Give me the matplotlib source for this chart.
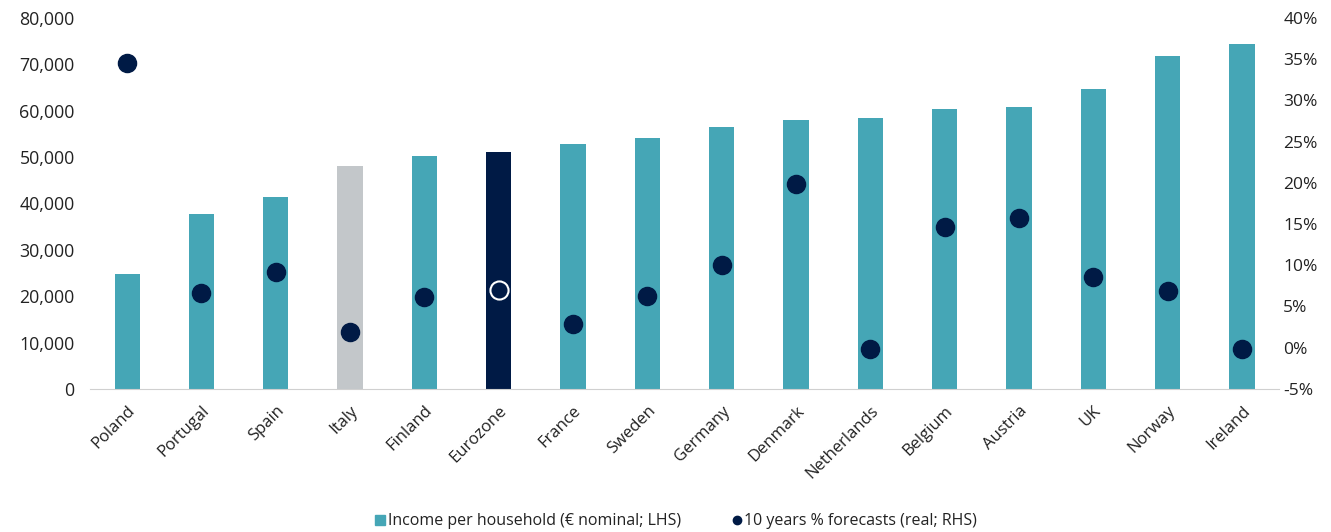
import matplotlib
matplotlib.use("Agg")
import matplotlib.pyplot as plt
from matplotlib.lines import Line2D
from matplotlib.ticker import FuncFormatter

plt.rcParams['font.family'] = ['Open Sans', 'DejaVu Sans']

countries = ["Poland", "Portugal", "Spain", "Italy", "Finland", "Eurozone", "France", "Sweden",
             "Germany", "Denmark", "Netherlands", "Belgium", "Austria", "UK", "Norway", "Ireland"]
income = [24800, 37700, 41400, 48100, 50200, 51100, 52800, 54100,
          56500, 58000, 58400, 60300, 60800, 64700, 71800, 74400]
forecast = [34.5, 6.6, 9.2, 1.9, 6.2, 7.0, 2.9, 6.3,
            10.0, 19.9, -0.1, 14.7, 15.7, 8.6, 6.9, -0.2]

teal = "#45A6B6"
navy = "#001A45"
grey = "#C3C7CA"
txt = "#222222"

bar_colors = []
for c in countries:
    if c == "Italy":
        bar_colors.append(grey)
    elif c == "Eurozone":
        bar_colors.append(navy)
    else:
        bar_colors.append(teal)

fig = plt.figure(figsize=(13.31, 5.32), dpi=100)
ax = fig.add_axes([0.0676, 0.269, 0.8934, 0.697])
x = range(len(countries))
ax.bar(x, income, width=0.34, color=bar_colors, zorder=2)
ax.set_xlim(-0.5, len(countries) - 0.5)
ax.set_ylim(0, 80000)
ax.set_yticks(range(0, 80001, 10000))
ax.yaxis.set_major_formatter(FuncFormatter(lambda v, p: "{:,.0f}".format(v)))
ax.set_xticks(list(x))
ax.set_xticklabels(countries, rotation=45, ha="right", rotation_mode="anchor")
ax.tick_params(length=0, labelsize=12, colors=txt)
ax.tick_params(axis="x", pad=10)
ax.tick_params(axis="y", pad=11, labelsize=12.8)
for s in ["top", "right", "left"]:
    ax.spines[s].set_visible(False)
ax.spines["bottom"].set_color("#D0D0D0")

ax2 = ax.twinx()
ax2.set_ylim(-5, 40)
ax2.set_yticks(range(-5, 41, 5))
ax2.yaxis.set_major_formatter(FuncFormatter(lambda v, p: "{:.0f}%".format(v)))
ax2.tick_params(length=0, labelsize=12.5, colors=txt, pad=3)
for s in ["top", "right", "left", "bottom"]:
    ax2.spines[s].set_visible(False)

for i, (c, v) in enumerate(zip(countries, forecast)):
    if c == "Eurozone":
        ax2.scatter(i, v, s=170, facecolor=navy, edgecolor="white", linewidth=1.5, zorder=3)
    else:
        ax2.scatter(i, v, s=170, color=navy, zorder=3)

handles = [
    Line2D([], [], marker="s", linestyle="none", color=teal, markersize=7),
    Line2D([], [], marker="o", linestyle="none", color=navy, markersize=6),
]
fig.legend(handles, ["Income per household (€ nominal; LHS)", "10 years % forecasts (real; RHS)"],
           loc="lower center", bbox_to_anchor=(0.508, -0.022), ncol=2, frameon=False,
           fontsize=11.5, handlelength=0.6, handletextpad=0.15, columnspacing=3.2, labelcolor=txt)

fig.savefig("out.png", dpi=100)
